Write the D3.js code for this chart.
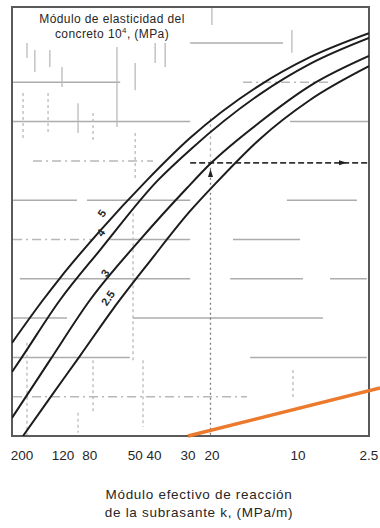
<!DOCTYPE html>
<html>
<head>
<meta charset="utf-8">
<script src="https://cdn.jsdelivr.net/npm/d3@7"></script>
<style>
  html, body { margin: 0; padding: 0; background: #fff; }
  svg { display: block; }
  text { font-family: "Liberation Sans", Arial, sans-serif; fill: #262626; }
</style>
</head>
<body>
<script>
// Horizontal reading scale runs 0–100 across the chart; k labels sit at fixed points on it.
const kTickLabels = ["200", "120", "80", "50", "40", "30", "20", "10", "2.5"];
const kTickPos    = [2.8, 14.3, 21.8, 34.5, 39.8, 49.3, 56.0, 80.1, 100];

// Concrete modulus curves (E × 10^4 MPa), points as [scale position, grid level]
const curveE5 = [[0, 2.37], [8.68, 3.46], [13.45, 4.02], [24.65, 5.22], [37.82, 6.51],
                 [49.86, 7.58], [69.47, 8.93], [83.47, 9.64], [100, 10.25]];
const curveE4 = [[0, 1.63], [2.24, 1.93], [13.45, 3.46], [24.65, 4.73], [40.9, 6.51],
                 [49.86, 7.28], [69.47, 8.70], [83.47, 9.47], [100, 10.13]];
const curveE3 = [[0, 0.46], [10.64, 1.93], [21.85, 3.46], [35.85, 4.99], [49.02, 6.31],
                 [55.46, 6.92], [69.47, 7.99], [83.47, 8.91], [100, 9.67]];
const curveE25 = [[3.08, 0], [10.64, 0.97], [19.05, 2.04], [28.29, 3.23], [38.66, 4.45],
                  [49.86, 5.72], [56.86, 6.41], [69.47, 7.56], [83.47, 8.55], [100, 9.41]];
const curveNames = ["5", "4", "3", "2.5"];
const curveLabelAt = [[25.2, 5.67], [24.9, 5.17], [26.05, 4.15], [26.9, 3.51]];

// Worked example: up from k = 20 to the E = 3 curve, then across to the right
const exampleK = 55.6;
const exampleLevel = 6.95;

// Highlight stroke laid over the lower right of the chart
const highlightLine = [[49.3, 0], [103.1, 1.22]];

// Faint printed grid pieces: [level, from, to, style]
const gridH = [
  [10, 49.9, 75.9, "s"], [9, 0.3, 30.3, "s"], [9, 64.7, 89.1, "d"],
  [8, 0, 49.9, "s"], [8, 77.9, 99.7, "s"], [7, 5.9, 39.5, "d"],
  [6, 0.3, 18.2, "s"], [6, 21, 49.9, "s"], [6, 77, 96.6, "s"],
  [5, 0.3, 22.7, "d"], [5, 27.5, 49.9, "s"], [5, 61.9, 80.7, "s"],
  [4, 2.2, 49.9, "s"], [4, 61.1, 81.5, "s"], [4, 89.1, 99.4, "s"],
  [3, 0.3, 15.4, "s"], [3, 33.9, 87.1, "s"],
  [2, 0, 33, "s"], [2, 66.7, 99.4, "s"], [1, 0.3, 65.8, "d"]
];
// [position, from level, to level, style]
const gridV = [
  [4.2, 10, 9.62, "s"], [4.2, 2.37, 0, "d"], [6.4, 9.82, 9.26, "s"], [10.6, 9.82, 9.39, "s"],
  [14, 9.39, 8.88, "s"], [29.4, 9.9, 7.86, "s"], [34.5, 9.49, 8.8, "s"], [34.5, 7.71, 6.51, "d"],
  [40.1, 10, 9.49, "s"], [42.9, 10, 9.39, "s"], [3.1, 8.73, 7.53, "d"], [10.1, 8.73, 7.71, "d"],
  [18.5, 8.47, 7.71, "s"], [18.5, 0.59, 0.08, "d"], [22.7, 8.22, 7.53, "d"], [22.7, 1.93, 0.59, "d"],
  [33.9, 5.67, 1.93, "d"], [36.7, 1.93, 0.23, "d"], [55.6, 8.09, 6.97, "d"], [56, 10.97, 10.46, "s"],
  [78.4, 10.33, 9.75, "s"], [78.7, 1.68, 0.99, "d"]
];

const W = 380, H = 528;
const frameLeft = 12, frameRight = 369, frameBottom = 436, frameTop = 7;

const x = d3.scaleLinear().domain([0, 100]).range([frameLeft, frameRight]);
const y = d3.scaleLinear().domain([0, 10]).range([frameBottom, 43]);

const svg = d3.select("body").append("svg")
  .attr("width", W).attr("height", H)
  .attr("viewBox", `0 0 ${W} ${H}`);

svg.append("rect").attr("width", W).attr("height", H).attr("fill", "#fff");

svg.append("clipPath").attr("id", "plot-clip")
  .append("rect")
  .attr("x", frameLeft).attr("y", frameTop)
  .attr("width", frameRight - frameLeft).attr("height", frameBottom - frameTop);

// Grid fragments
const grid = svg.append("g").attr("clip-path", "url(#plot-clip)");
grid.selectAll("line.gh").data(gridH).join("line")
  .attr("class", "gh")
  .attr("x1", d => x(d[1])).attr("x2", d => x(d[2]))
  .attr("y1", d => y(d[0])).attr("y2", d => y(d[0]))
  .attr("stroke", d => d[3] === "d" ? "#b8b8b8" : "#acacac")
  .attr("stroke-width", 1.5)
  .attr("stroke-dasharray", d => d[3] === "d" ? "9 4 2 4" : null);
grid.selectAll("line.gv").data(gridV).join("line")
  .attr("class", "gv")
  .attr("x1", d => x(d[0])).attr("x2", d => x(d[0]))
  .attr("y1", d => y(d[1])).attr("y2", d => y(d[2]))
  .attr("stroke", "#bababa")
  .attr("stroke-width", 1.3)
  .attr("stroke-dasharray", d => d[3] === "d" ? "3 3" : null);

// Example guide lines
const guide = svg.append("g");
guide.append("line")
  .attr("x1", x(exampleK)).attr("x2", x(exampleK))
  .attr("y1", y(exampleLevel)).attr("y2", y(0))
  .attr("stroke", "#7a7a7a").attr("stroke-width", 1.3).attr("stroke-dasharray", "2 3");
guide.append("line")
  .attr("x1", x(49.9)).attr("x2", x(100))
  .attr("y1", y(exampleLevel)).attr("y2", y(exampleLevel))
  .attr("stroke", "#333").attr("stroke-width", 1.6).attr("stroke-dasharray", "6 3");
// arrowheads along the guides
const ax = x(93), ay = y(exampleLevel);
guide.append("path")
  .attr("d", `M${ax - 5},${ay - 2.5} L${ax + 3},${ay} L${ax - 5},${ay + 2.5} Z`)
  .attr("fill", "#222");
const vx = x(exampleK), vy = y(6.72);
guide.append("path")
  .attr("d", `M${vx - 2.5},${vy + 5} L${vx},${vy - 3} L${vx + 2.5},${vy + 5} Z`)
  .attr("fill", "#222");

// Frame
svg.append("rect")
  .attr("x", frameLeft).attr("y", frameTop)
  .attr("width", frameRight - frameLeft).attr("height", frameBottom - frameTop)
  .attr("fill", "none").attr("stroke", "#5a5a5a").attr("stroke-width", 2);

// Curves
const line = d3.line().x(d => x(d[0])).y(d => y(d[1])).curve(d3.curveMonotoneX);
const curves = [curveE5, curveE4, curveE3, curveE25];
svg.append("g").attr("clip-path", "url(#plot-clip)")
  .selectAll("path").data(curves).join("path")
  .attr("d", line)
  .attr("fill", "none")
  .attr("stroke", "#1c1c1c")
  .attr("stroke-width", 2);

// Curve labels
svg.append("g").selectAll("text").data(curveNames).join("text")
  .attr("transform", (d, i) => `translate(${x(curveLabelAt[i][0])},${y(curveLabelAt[i][1])}) rotate(-55)`)
  .attr("text-anchor", "middle")
  .attr("dy", "0.35em")
  .attr("font-size", 11)
  .attr("font-weight", "bold")
  .text(d => d);

// k tick labels
svg.append("g").selectAll("text").data(kTickLabels).join("text")
  .attr("x", (d, i) => x(kTickPos[i]))
  .attr("y", 460)
  .attr("text-anchor", "middle")
  .attr("font-size", 13.5)
  .text(d => d);

// Top-left title for the curve family
const title = svg.append("text")
  .attr("text-anchor", "middle")
  .attr("font-size", 12)
  .attr("letter-spacing", 0.4);
title.append("tspan").attr("x", 112).attr("y", 23).text("Módulo de elasticidad del");
const t2 = title.append("tspan").attr("x", 112).attr("y", 38).text("concreto 10");
t2.append("tspan").attr("font-size", 8).attr("dy", -5).text("4");
t2.append("tspan").attr("dy", 5).text(", (MPa)");

// Axis title
const xt = svg.append("text")
  .attr("text-anchor", "middle")
  .attr("font-size", 13.5)
  .attr("letter-spacing", 0.7);
xt.append("tspan").attr("x", 199).attr("y", 499).text("Módulo efectivo de reacción");
xt.append("tspan").attr("x", 199).attr("y", 517).text("de la subrasante k, (MPa/m)");

// Highlight stroke
svg.append("path")
  .attr("d", d3.line().x(d => x(d[0])).y(d => y(d[1]))(highlightLine))
  .attr("stroke", "#ec7a2c")
  .attr("stroke-width", 3.5)
  .attr("stroke-linecap", "butt")
  .attr("fill", "none");
</script>
</body>
</html>
